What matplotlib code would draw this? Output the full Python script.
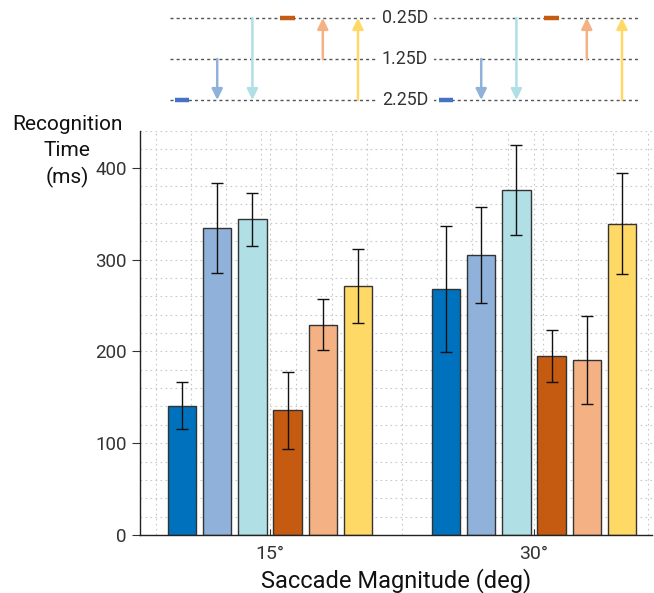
import matplotlib
matplotlib.use("Agg")
import matplotlib.pyplot as plt
import numpy as np
from matplotlib.ticker import MultipleLocator, FixedLocator

plt.rcParams['font.family'] = ['Roboto', 'DejaVu Sans']

groups = ['15°', '30°']
conditions = ['2.25D', '1.25D→2.25D', '0.25D→2.25D', '0.25D', '1.25D→0.25D', '2.25D→0.25D']
means_15 = [141, 334, 344, 136, 229, 271]
errs_15 = [26, 49, 29, 42, 28, 40]
means_30 = [268, 305, 376, 195, 191, 339]
errs_30 = [69, 52, 49, 28, 48, 55]
start_D = [2.25, 1.25, 0.25, 0.25, 1.25, 2.25]
end_D = [2.25, 2.25, 2.25, 0.25, 0.25, 0.25]
level_labels = ['0.25D', '1.25D', '2.25D']
level_values = [0.25, 1.25, 2.25]
ylabel_lines = ['Recognition', 'Time', '(ms)']

bar_colors = ['#0072BD', '#8FB1DA', '#B0DFE6', '#C55A11', '#F4B183', '#FFD966']
stay_colors = ['#4472C4', None, None, '#C55A11', None, None]

W, H = 654, 593
fig = plt.figure(figsize=(W / 100, H / 100), dpi=100)

def px_axes(x0, y0, x1, y1):
    return fig.add_axes([x0 / W, 1 - y1 / H, (x1 - x0) / W, (y1 - y0) / H])

ax = px_axes(140, 131, 652, 535)
xlim = (1 + (140 - 270) / 264, 1 + (652 - 270) / 264)
n = len(conditions)
step = 0.1333
width = 0.107
offsets = (np.arange(n) - (n - 1) / 2) * step
group_x = np.arange(1, len(groups) + 1)

# grid
ax.set_xlim(*xlim)
ax.set_ylim(0, 440)
ax.xaxis.set_minor_locator(FixedLocator(np.arange(0.5667, 2.45, 0.1333)))
ax.yaxis.set_minor_locator(MultipleLocator(20))
ax.grid(which='minor', linestyle=(0, (1.5, 3)), color='#c8c8c8', linewidth=0.8)
ax.grid(which='major', linestyle=(0, (1.5, 3)), color='#c8c8c8', linewidth=0.8)
ax.set_axisbelow(True)

all_means = [means_15, means_30]
all_errs = [errs_15, errs_30]
for gi, gx in enumerate(group_x):
    for ci in range(n):
        x = gx + offsets[ci]
        ax.bar(x, all_means[gi][ci], width=width, color=bar_colors[ci],
               edgecolor='#333333', linewidth=1.0, zorder=2)
        ax.errorbar(x, all_means[gi][ci], yerr=all_errs[gi][ci], color='#111111',
                    elinewidth=1.0, capsize=4, capthick=1.0, zorder=3, fmt='none')

ax.set_xticks(group_x)
ax.set_xticklabels(groups)
ax.set_yticks([0, 100, 200, 300, 400])
ax.tick_params(axis='x', which='major', direction='in', length=4, labelsize=14,
               colors='#333333', pad=7)
ax.tick_params(axis='y', which='major', direction='out', length=6, labelsize=13.5,
               colors='#333333')
ax.tick_params(which='minor', length=0)
for s in ['top', 'right']:
    ax.spines[s].set_visible(False)
for s in ['left', 'bottom']:
    ax.spines[s].set_color('#222222')
    ax.spines[s].set_linewidth(1.0)
ax.set_xlabel('Saccade Magnitude (deg)', fontsize=17, color='#111111', labelpad=4)
for i, line in enumerate(ylabel_lines):
    fig.text(67 / W, 1 - (125 + 26 * i) / H, line, ha='center', va='center',
             fontsize=15, color='#111111')

# schematic of focal changes
tax = px_axes(140, 0, 652, 115)
tax.set_xlim(*xlim)
d_per_px = 1 / 41
tax.set_ylim(2.25 + 15 * d_per_px, 0.25 - 18 * d_per_px)
tax.axis('off')
x_line0 = 1 + (170 - 270) / 264
x_line1 = 1 + (638 - 270) / 264
x_lab = 1 + (405 - 270) / 264
for lab, v in zip(level_labels, level_values):
    tax.plot([x_line0, x_line1], [v, v], linestyle=(0, (2.2, 2.2)), color='#555555',
             linewidth=1.0, zorder=1)
    tax.text(x_lab, v, lab, ha='center', va='center', fontsize=12.8, color='#333333',
             bbox=dict(facecolor='white', edgecolor='none', pad=4), zorder=3)

for gx in group_x:
    for ci in range(n):
        x = gx + offsets[ci]
        if start_D[ci] == end_D[ci]:
            tax.plot([x - 0.027, x + 0.027], [start_D[ci]] * 2, color=stay_colors[ci],
                     linewidth=3.2, solid_capstyle='butt', zorder=2)
        else:
            tax.annotate('', xy=(x, end_D[ci]), xytext=(x, start_D[ci]),
                         arrowprops=dict(arrowstyle='-|>,head_width=0.32,head_length=0.65',
                                         color=bar_colors[ci], lw=1.8,
                                         shrinkA=0, shrinkB=0), zorder=2)

fig.savefig('out.png', dpi=100)
